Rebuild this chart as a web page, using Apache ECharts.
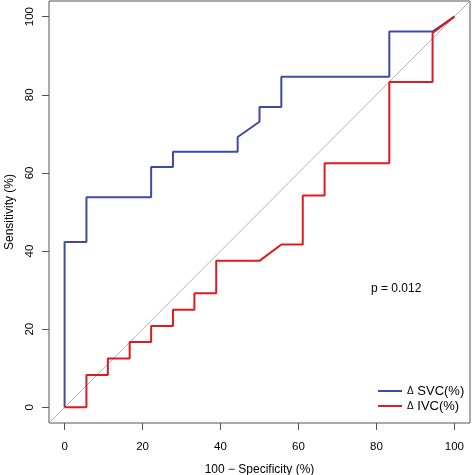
<!DOCTYPE html>
<html>
<head>
<meta charset="utf-8">
<script src="https://cdn.jsdelivr.net/npm/echarts@6/dist/echarts.min.js"></script>
<style>
html,body{margin:0;padding:0;background:#fff;}
#chart{width:472px;height:475px;}
</style>
</head>
<body>
<div id="chart"></div>
<script>
// 100 - Specificity (%) and Sensitivity (%) for each ROC curve
const svcX = [0, 0, 5.6, 5.6, 22.2, 22.2, 27.8, 27.8, 44.4, 44.4, 50, 50, 55.6, 55.6, 83.3, 83.3, 94.4, 100];
const svcY = [0, 42.3, 42.3, 53.8, 53.8, 61.5, 61.5, 65.4, 65.4, 69.2, 73.1, 76.9, 76.9, 84.6, 84.6, 96.2, 96.2, 100];
const ivcX = [0, 5.6, 5.6, 11.1, 11.1, 16.7, 16.7, 22.2, 22.2, 27.8, 27.8, 33.3, 33.3, 38.9, 38.9, 50, 55.6, 61.1, 61.1, 66.7, 66.7, 83.3, 83.3, 94.4, 94.4, 100];
const ivcY = [0, 0, 8.3, 8.3, 12.5, 12.5, 16.7, 16.7, 20.8, 20.8, 25, 25, 29.2, 29.2, 37.5, 37.5, 41.7, 41.7, 54.2, 54.2, 62.5, 62.5, 83.3, 83.3, 95.8, 100];
const diagX = [-4, 104];
const diagY = [-4, 104];
const ticks = [0, 20, 40, 60, 80, 100];
const seriesNames = ['SVC(%)', 'IVC(%)'];
const pText = 'p = 0.012';

const zip = (xs, ys) => xs.map((x, i) => [x, ys[i]]);
const font = 'Liberation Sans, Arial, Helvetica, sans-serif';

const chart = echarts.init(document.getElementById('chart'), null, {renderer: 'canvas'});
chart.setOption({
  animation: false,
  backgroundColor: '#fff',
  textStyle: {fontFamily: font},
  grid: {left: 49, right: 2, top: 1, bottom: 52, show: true, borderColor: '#555', borderWidth: 1,
    backgroundColor: 'transparent', containLabel: false, outerBoundsMode: 'none'},
  xAxis: {
    type: 'value', min: -4, max: 104,
    name: '100 \u2212 Specificity (%)', nameLocation: 'middle', nameGap: 41,
    nameTextStyle: {fontSize: 12, color: '#000', fontFamily: font},
    axisLine: {show: false, onZero: false},
    splitLine: {show: false},
    axisTick: {show: true, length: 7, lineStyle: {color: '#555'}, customValues: ticks},
    axisLabel: {fontSize: 11.5, color: '#000', margin: 18, fontFamily: font, customValues: ticks}
  },
  yAxis: {
    type: 'value', min: -4, max: 104,
    name: 'Sensitivity (%)', nameLocation: 'middle', nameGap: 32, nameRotate: 90,
    nameTextStyle: {fontSize: 12, color: '#000', fontFamily: font},
    axisLine: {show: false, onZero: false},
    splitLine: {show: false},
    axisTick: {show: true, length: 7, lineStyle: {color: '#555'}, customValues: ticks},
    axisLabel: {fontSize: 11.5, color: '#000', margin: 13, rotate: 90, fontFamily: font, customValues: ticks}
  },
  legend: {
    orient: 'vertical', left: 373, top: 379,
    itemWidth: 24, itemHeight: 2, itemGap: 1,
    icon: 'rect',
    formatter: name => '{d|\u0394} ' + name,
    textStyle: {fontSize: 13, color: '#000', fontFamily: font, lineHeight: 14,
      rich: {d: {fontSize: 10, fontFamily: font, color: '#000'}}},
    data: seriesNames
  },
  graphic: [{
    type: 'text', left: 371, top: 283,
    style: {text: pText, fontSize: 12, fill: '#000', font: '12px ' + font}
  }],
  series: [
    {type: 'line', data: zip(diagX, diagY), symbol: 'none', silent: true,
     lineStyle: {color: '#b4b4b4', width: 1}, z: 1},
    {name: seriesNames[0], type: 'line', data: zip(svcX, svcY), symbol: 'none',
     color: '#3f4ba0', lineStyle: {color: '#3f4ba0', width: 2}, z: 2},
    {name: seriesNames[1], type: 'line', data: zip(ivcX, ivcY), symbol: 'none',
     color: '#e01a1e', lineStyle: {color: '#e01a1e', width: 2}, z: 3}
  ]
});
</script>
</body>
</html>
